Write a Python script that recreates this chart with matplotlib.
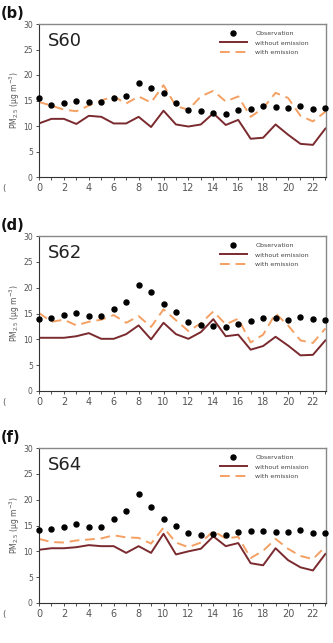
import matplotlib
matplotlib.use("Agg")
import matplotlib.pyplot as plt
import numpy as np

hours = list(range(24))
xticks = list(range(0, 23, 2))
yticks = [0, 5, 10, 15, 20, 25, 30]

panel_labels = ["(b)", "(d)", "(f)"]
stations = ["S60", "S62", "S64"]

obs_s60 = [15.4, 14.2, 14.5, 15.0, 14.7, 14.8, 15.5, 15.9, 18.5, 17.4, 16.4, 14.5,
           13.2, 12.9, 12.6, 12.4, 13.1, 13.4, 13.9, 13.7, 13.5, 14.0, 13.4, 13.5]
without_s60 = [10.5, 11.4, 11.4, 10.4, 12.0, 11.8, 10.5, 10.5, 11.8, 9.8, 13.0, 10.3,
               9.9, 10.3, 12.5, 10.2, 11.2, 7.5, 7.7, 10.3, 8.3, 6.5, 6.3, 9.5]
with_s60 = [14.7, 14.0, 13.2, 12.9, 14.0, 15.0, 15.8, 14.4, 15.8, 14.6, 18.0, 13.9,
            13.2, 15.8, 16.9, 14.8, 15.8, 11.8, 13.5, 16.5, 15.5, 12.0, 10.9, 12.8]

obs_s62 = [14.0, 14.2, 14.7, 15.1, 14.5, 14.5, 15.8, 17.3, 20.5, 19.2, 16.9, 15.3,
           13.4, 12.8, 12.5, 12.3, 12.9, 13.6, 14.1, 14.2, 13.8, 14.3, 13.9, 13.8]
without_s62 = [10.3, 10.3, 10.3, 10.6, 11.2, 10.1, 10.1, 11.0, 12.7, 10.0, 13.2, 11.0,
               10.1, 11.4, 13.9, 10.6, 10.9, 8.0, 8.7, 10.5, 8.8, 6.9, 7.0, 9.8]
with_s62 = [15.1, 13.4, 13.8, 12.7, 13.4, 13.8, 14.7, 13.2, 14.5, 12.4, 15.8, 13.7,
            11.6, 13.1, 15.4, 12.9, 14.0, 9.4, 10.9, 15.0, 12.7, 9.8, 9.3, 12.1]

obs_s64 = [14.1, 14.4, 14.7, 15.2, 14.8, 14.8, 16.2, 17.9, 21.1, 18.6, 16.3, 15.0,
           13.6, 13.2, 13.4, 13.1, 13.7, 14.0, 13.9, 13.8, 13.7, 14.2, 13.6, 13.6]
without_s64 = [10.3, 10.6, 10.6, 10.8, 11.2, 11.0, 11.0, 9.7, 11.0, 9.7, 13.4, 9.4,
               10.0, 10.5, 12.9, 11.0, 11.6, 7.7, 7.3, 10.6, 8.3, 6.9, 6.3, 9.5]
with_s64 = [12.4, 11.8, 11.7, 12.1, 12.3, 12.5, 13.1, 12.7, 12.6, 11.5, 14.6, 11.7,
            10.8, 11.7, 13.9, 12.5, 12.8, 8.7, 10.1, 12.4, 10.5, 9.1, 8.5, 10.9]

obs_all = [obs_s60, obs_s62, obs_s64]
without_all = [without_s60, without_s62, without_s64]
with_all = [with_s60, with_s62, with_s64]

W, H = 333, 643
fig = plt.figure(figsize=(W / 100, H / 100), dpi=100)
fig.patch.set_facecolor("white")

# (top px, bottom px) of each axes
boxes = [(24, 177), (236, 391), (448, 603)]
left_px, right_px = 39, 326

c_without = "#7a2a2e"
c_with = "#f4a063"
c_tick = "#555555"

for i, (top, bot) in enumerate(boxes):
    ax = fig.add_axes([left_px / W, 1 - bot / H, (right_px - left_px) / W, (bot - top) / H])
    ax.plot(hours, without_all[i], color=c_without, lw=1.4, label="without emission")
    ax.plot(hours, with_all[i], color=c_with, lw=1.4, ls=(0, (5, 3)), label="with emission")
    ax.plot(hours, obs_all[i], "o", color="black", ms=3.6, label="Observation",
            zorder=5, clip_on=False)
    ax.set_xlim(0, 23.05)
    ax.set_ylim(0, 30)
    ax.set_xticks(xticks)
    ax.set_xticks(hours, minor=True)
    ax.set_yticks(yticks)
    ax.tick_params(axis="both", which="major", direction="out", length=2.5, width=0.6,
                   labelsize=7, colors="#333333", labelcolor=c_tick, pad=2)
    ax.tick_params(axis="x", which="minor", direction="out", length=2, width=0.6, colors="#333333")
    ax.tick_params(axis="y", labelsize=5.5)
    for s in ["left", "bottom"]:
        ax.spines[s].set_color("#333333")
        ax.spines[s].set_linewidth(0.8)
    for s in ["top", "right"]:
        ax.spines[s].set_color("#888888")
        ax.spines[s].set_linewidth(1.0)
    ax.set_ylabel("PM$_{2.5}$ (μg m$^{-3}$)", fontsize=5.5, color=c_tick, labelpad=1)
    ax.text(0.03, 0.95, stations[i], transform=ax.transAxes, fontsize=13,
            va="top", ha="left", color="#222222")
    handles, labels = ax.get_legend_handles_labels()
    order = [2, 0, 1]
    ax.legend([handles[k] for k in order], [labels[k] for k in order],
              loc="upper right", bbox_to_anchor=(0.96, 0.995), frameon=False,
              fontsize=4.5, handlelength=4.4, handletextpad=1.3, labelspacing=0.7,
              labelcolor="#444444")
    fig.text(1 / W, 1 - (top - 10) / H, panel_labels[i], fontsize=10.5, fontweight="bold",
             va="center", ha="left", color="#111111")
    fig.text(2 / W, 1 - (bot + 11) / H, "(", fontsize=6, va="center", ha="left", color=c_tick)

fig.savefig("out.png", dpi=100, facecolor="white")
